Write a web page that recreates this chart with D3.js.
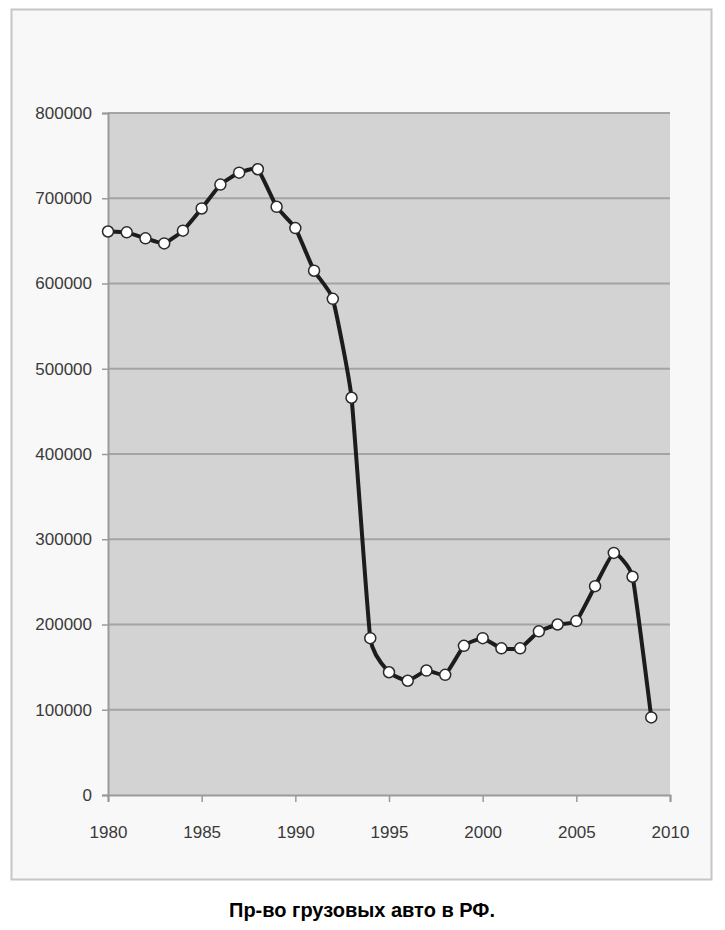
<!DOCTYPE html>
<html>
<head>
<meta charset="utf-8">
<script src="https://cdn.jsdelivr.net/npm/d3@7"></script>
<style>
    body { margin: 0; background: #ffffff; }
    svg { display: block; }
    .tick-label { font-family: "Liberation Sans", Arial, sans-serif; font-size: 17px; fill: #3a3a3a; }
</style>
</head>
<body>
<div id="chart"></div>
<script>
// годы и выпуск грузовых автомобилей, шт.
var years = [1980, 1981, 1982, 1983, 1984, 1985, 1986, 1987, 1988, 1989,
             1990, 1991, 1992, 1993, 1994, 1995, 1996, 1997, 1998, 1999,
             2000, 2001, 2002, 2003, 2004, 2005, 2006, 2007, 2008, 2009];
var trucks = [661000, 660000, 653000, 647000, 662000, 688000, 716000, 730000, 734000, 690000,
              665000, 615000, 582000, 466000, 184000, 144000, 134000, 146000, 141000, 175000,
              184000, 172000, 172000, 192000, 200000, 204000, 245000, 284000, 256000, 91000];
var x_ticks = [1980, 1985, 1990, 1995, 2000, 2005, 2010];
var y_ticks = [0, 100000, 200000, 300000, 400000, 500000, 600000, 700000, 800000];
var title = 'Пр-во грузовых авто в РФ.';

var width = 725, height = 930;
var plot = {left: 108, right: 670, top: 113, bottom: 795};

var svg = d3.select('#chart').append('svg')
    .attr('width', width)
    .attr('height', height);

// фон страницы и рамка диаграммы
svg.append('rect')
    .attr('x', 0).attr('y', 0)
    .attr('width', width).attr('height', height)
    .attr('fill', '#ffffff');

svg.append('rect')
    .attr('x', 11.5).attr('y', 9.5)
    .attr('width', 700).attr('height', 870)
    .attr('fill', '#f8f8f8')
    .attr('stroke', '#c6c6c6')
    .attr('stroke-width', 2);

var x = d3.scaleLinear().domain([1980, 2010]).range([plot.left, plot.right]);
var y = d3.scaleLinear().domain([0, 800000]).range([plot.bottom, plot.top]);

svg.append('rect')
    .attr('x', plot.left).attr('y', plot.top)
    .attr('width', plot.right - plot.left)
    .attr('height', plot.bottom - plot.top)
    .attr('fill', '#d3d3d3');

// горизонтальная сетка
svg.append('g')
    .selectAll('line')
    .data(y_ticks.filter(function(d){ return d > 0; }))
    .enter().append('line')
    .attr('x1', plot.left).attr('x2', plot.right)
    .attr('y1', function(d){ return y(d); })
    .attr('y2', function(d){ return y(d); })
    .attr('stroke', '#a4a4a4')
    .attr('stroke-width', 2);

// оси
var y_axis = svg.append('g')
    .attr('transform', 'translate(' + plot.left + ',0)')
    .call(d3.axisLeft(y).tickValues(y_ticks).tickSize(6).tickPadding(10)
        .tickFormat(function(d){ return String(d); }));

var x_axis = svg.append('g')
    .attr('transform', 'translate(0,' + plot.bottom + ')')
    .call(d3.axisBottom(x).tickValues(x_ticks).tickSize(7).tickPadding(24)
        .tickFormat(function(d){ return String(d); }));

[y_axis, x_axis].forEach(function(axis){
    axis.select('.domain').attr('stroke', '#9a9a9a').attr('stroke-width', 2);
    axis.selectAll('.tick line').attr('stroke', '#9a9a9a').attr('stroke-width', 1.5);
    axis.selectAll('.tick text')
        .attr('class', 'tick-label')
        .attr('font-family', null)
        .attr('font-size', null);
});
x_axis.selectAll('.tick text').attr('dy', '0.71em');

// линия и маркеры
var line = d3.line()
    .x(function(d, i){ return x(years[i]); })
    .y(function(d){ return y(d); })
    .curve(d3.curveCardinal.tension(0.6));

svg.append('path')
    .datum(trucks)
    .attr('d', line)
    .attr('fill', 'none')
    .attr('stroke', '#1c1c1c')
    .attr('stroke-width', 4)
    .attr('stroke-linejoin', 'round');

svg.append('g')
    .selectAll('circle')
    .data(trucks)
    .enter().append('circle')
    .attr('cx', function(d, i){ return x(years[i]); })
    .attr('cy', function(d){ return y(d); })
    .attr('r', 5.5)
    .attr('fill', '#ffffff')
    .attr('stroke', '#2a2a2a')
    .attr('stroke-width', 1.5);

svg.append('text')
    .attr('x', 362)
    .attr('y', 917)
    .attr('text-anchor', 'middle')
    .attr('font-family', '"Liberation Sans", Arial, sans-serif')
    .attr('font-weight', 'bold')
    .attr('font-size', '20px')
    .attr('fill', '#000000')
    .text(title);
</script>
</body>
</html>
